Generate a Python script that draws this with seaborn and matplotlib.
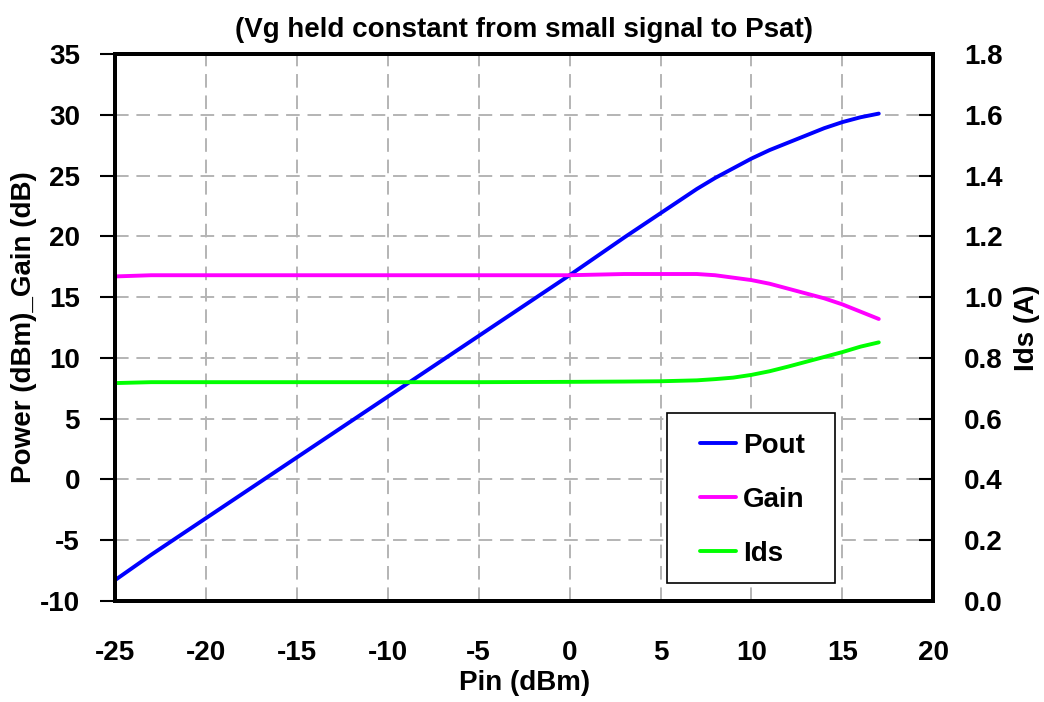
import pandas as pd
import seaborn as sns
import matplotlib.pyplot as plt
from matplotlib.patches import Rectangle

# data
pin = [-25, -23, -20, -15, -10, -5, 0, 3, 5, 7, 8, 9, 10, 11, 12, 13, 14, 15, 16, 17]
gain = [16.7, 16.8, 16.8, 16.8, 16.8, 16.8, 16.8, 16.9, 16.9, 16.9, 16.8, 16.6, 16.4, 16.1, 15.7, 15.3, 14.9, 14.4, 13.8, 13.2]
pout = [-8.3, -6.2, -3.2, 1.8, 6.8, 11.8, 16.8, 19.9, 21.9, 23.9, 24.8, 25.6, 26.4, 27.1, 27.7, 28.3, 28.9, 29.4, 29.8, 30.1]
ids = [0.717, 0.72, 0.72, 0.72, 0.72, 0.72, 0.721, 0.722, 0.723, 0.726, 0.730, 0.735, 0.744, 0.756, 0.771, 0.787, 0.803, 0.819, 0.837, 0.851]

df = pd.DataFrame({'Pin': pin, 'Pout': pout, 'Gain': gain, 'Ids': ids})

sns.set_style('white')
plt.rcParams['font.family'] = ['Liberation Sans', 'DejaVu Sans']
plt.rcParams['font.weight'] = 'bold'
plt.rcParams['axes.unicode_minus'] = False
for k in ('text.color', 'axes.labelcolor', 'xtick.color', 'ytick.color'):
    plt.rcParams[k] = 'black'

fs = 20

fig, ax = plt.subplots(figsize=(10.44, 7.02), dpi=100)
fig.subplots_adjust(left=0.110, right=0.894, top=0.923, bottom=0.144)
ax2 = ax.twinx()

lw = 2.8
sns.lineplot(data=df, x='Pin', y='Pout', ax=ax, color='#0000ff', lw=lw, label='Pout', legend=False)
sns.lineplot(data=df, x='Pin', y='Gain', ax=ax, color='#ff00ff', lw=lw, label='Gain', legend=False)
sns.lineplot(data=df, x='Pin', y='Ids', ax=ax2, color='#00ff00', lw=lw, label='Ids', legend=False)

ax.set_xlim(-25, 20)
ax.set_ylim(-10, 35)
ax2.set_ylim(0, 1.8)
ax.set_xticks(range(-25, 21, 5))
ax.set_yticks(range(-10, 36, 5))
ax2.set_yticks([i / 10 for i in range(0, 19, 2)])
ax2.set_yticklabels([f'{i / 10:.1f}' for i in range(0, 19, 2)])

ax.grid(True, color='#b4b4b4', linestyle=(0, (7, 4)), lw=1.4)
ax.set_axisbelow(True)

for a in (ax, ax2):
    for s in a.spines.values():
        s.set_linewidth(2.8)
        s.set_color('black')
ax.tick_params(axis='x', labelsize=fs, width=1.5, length=10, direction='out', pad=18)
ax.tick_params(axis='y', labelsize=fs, width=1.5, length=11, direction='out', pad=14)
ax2.tick_params(axis='y', labelsize=fs, width=1.5, length=10, direction='in', pad=22)

ax.set_xlabel('Pin (dBm)', fontsize=fs, fontweight='bold', labelpad=3)
ax.set_ylabel('Power (dBm)_Gain (dB)', fontsize=fs, fontweight='bold', labelpad=2)
ax2.set_ylabel('Ids (A)', fontsize=fs, fontweight='bold', labelpad=8)
ax.set_title('(Vg held constant from small signal to Psat)', fontsize=fs, fontweight='bold', pad=12)

# legend box drawn separately so the padding matches the reference
ax2.add_patch(Rectangle((0.675, 0.033), 0.2054, 0.311, transform=ax2.transAxes,
                        facecolor='white', edgecolor='black', lw=1.2, zorder=4))
h1, l1 = ax.get_legend_handles_labels()
h2, l2 = ax2.get_legend_handles_labels()
leg = ax2.legend(h1 + h2, l1 + l2, loc='upper left', bbox_to_anchor=(0.715, 0.307),
                 fontsize=fs, frameon=False, handlelength=1.3, labelspacing=1.0,
                 borderpad=0, handletextpad=0.25, borderaxespad=0)
leg.set_zorder(5)

plt.savefig('out.png', dpi=100)
